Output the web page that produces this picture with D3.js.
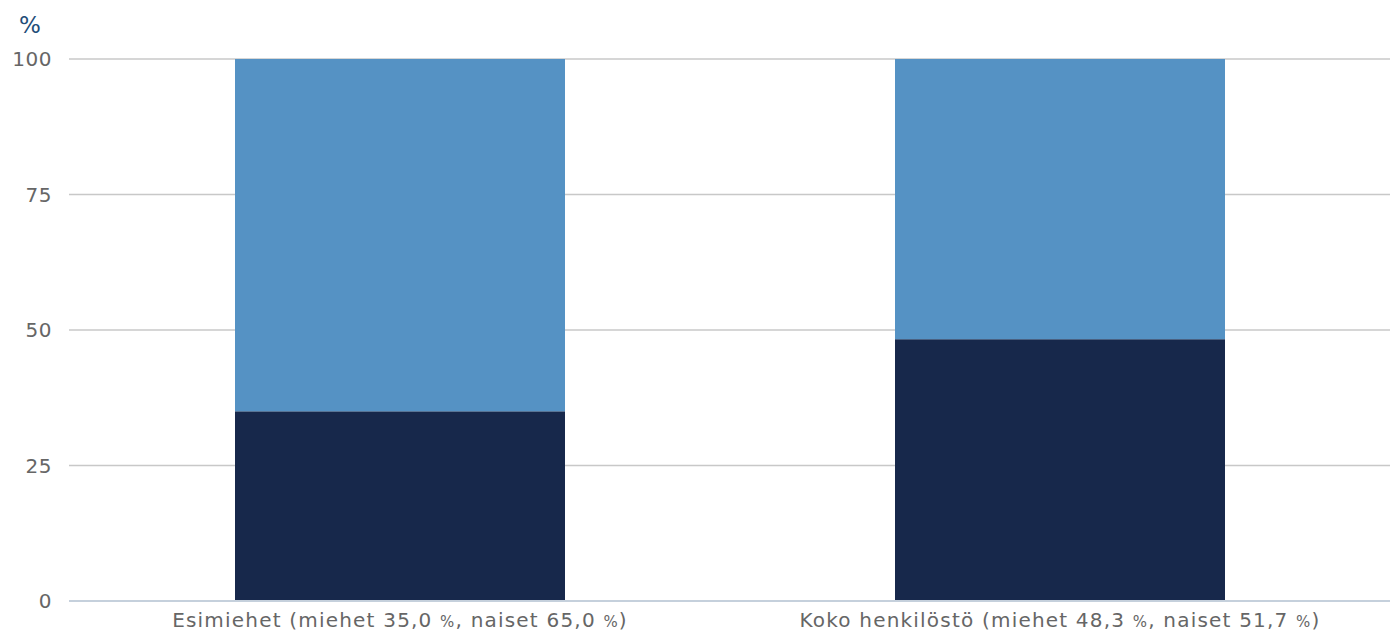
<!DOCTYPE html>
<html>
<head>
<meta charset="utf-8">
<script src="https://cdn.jsdelivr.net/npm/d3@7"></script>
<style>
	body { margin: 0; background: #fff; }
	text { font-family: "DejaVu Sans", "Noto Sans", sans-serif; }
</style>
</head>
<body>
<svg id="chart"></svg>
<script>
const categories = ['Esimiehet', 'Koko henkilöstö'];
const miehet = [35.0, 48.3];
const naiset = [65.0, 51.7];
const y_ticks = [0, 25, 50, 75, 100];

const fmt = v => d3.format('.1f')(v).replace('.', ',');

const width = 1397, height = 633;
const margin = {top: 59, right: 7, bottom: 32, left: 70};

const svg = d3.select('#chart').attr('width', width).attr('height', height);

const x = d3.scaleBand()
	.domain(categories)
	.range([margin.left, width - margin.right])
	.paddingInner(0.5)
	.paddingOuter(0.25);

const y = d3.scaleLinear()
	.domain([0, 100])
	.range([height - margin.bottom, margin.top]);

// gridlines
svg.append('g')
	.selectAll('line')
	.data(y_ticks.filter(d => d > 0))
	.join('line')
	.attr('x1', 69).attr('x2', width - 7)
	.attr('y1', d => y(d)).attr('y2', d => y(d))
	.attr('stroke', '#c8c8c8')
	.attr('stroke-width', 1.5);

// y tick labels
svg.append('g')
	.selectAll('text')
	.data(y_ticks)
	.join('text')
	.attr('x', 52)
	.attr('y', d => y(d))
	.attr('dy', '0.36em')
	.attr('text-anchor', 'end')
	.attr('fill', '#666')
	.style('font-size', '20px')
	.style('letter-spacing', '0.5px')
	.text(d => d);

// unit label
svg.append('text')
	.attr('x', 30).attr('y', 33)
	.attr('text-anchor', 'middle')
	.attr('fill', '#1f4e79')
	.style('font-size', '23px')
	.text('%');

const rows = categories.map((c, i) => ({cat: c, m: miehet[i], n: naiset[i]}));

// miehet (bottom)
svg.append('g')
	.selectAll('rect')
	.data(rows)
	.join('rect')
	.attr('x', d => x(d.cat))
	.attr('width', x.bandwidth())
	.attr('y', d => y(d.m))
	.attr('height', d => y(0) - y(d.m))
	.attr('fill', '#17284b');

// naiset (top)
svg.append('g')
	.selectAll('rect')
	.data(rows)
	.join('rect')
	.attr('x', d => x(d.cat))
	.attr('width', x.bandwidth())
	.attr('y', d => y(d.m + d.n))
	.attr('height', d => y(d.m) - y(d.m + d.n))
	.attr('fill', '#5592c4');

// baseline
svg.append('line')
	.attr('x1', 69).attr('x2', width - 7)
	.attr('y1', y(0)).attr('y2', y(0))
	.attr('stroke', '#c5d0dc')
	.attr('stroke-width', 2);

// category labels
const lab = svg.append('g')
	.selectAll('text')
	.data(rows)
	.join('text')
	.attr('x', d => x(d.cat) + x.bandwidth() / 2)
	.attr('y', height - 6)
	.attr('text-anchor', 'middle')
	.attr('fill', '#666')
	.style('font-size', '20px')
	.style('letter-spacing', '1.2px');

lab.each(function(d) {
	const t = d3.select(this);
	t.append('tspan').text(`${d.cat} (miehet ${fmt(d.m)} `);
	t.append('tspan').style('font-size', '15px').text('%');
	t.append('tspan').text(`, naiset ${fmt(d.n)} `);
	t.append('tspan').style('font-size', '15px').text('%');
	t.append('tspan').text(')');
});
</script>
</body>
</html>
